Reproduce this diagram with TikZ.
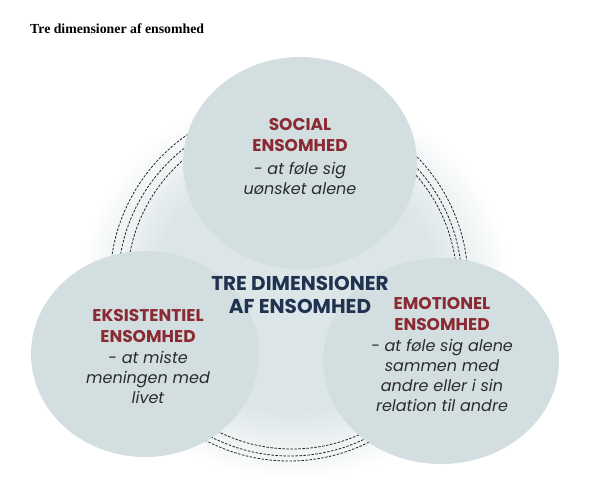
\documentclass[tikz,border=0pt]{standalone}
\usepackage{fontspec}
\setmainfont{Poppins}
\newfontfamily\headfont{Liberation Serif}
\usepackage{tikz}
\usetikzlibrary{positioning}
\definecolor{ensred}{HTML}{8A2A32}
\definecolor{ensnavy}{HTML}{1F3250}
\definecolor{ensfill}{HTML}{D3DEE0}
\definecolor{ensglow}{HTML}{DCE5E7}
\definecolor{enstext}{HTML}{2C2C2C}
\pgfdeclareradialshading{ensfade}{\pgfpoint{0bp}{0bp}}{color(0bp)=(ensglow); color(16bp)=(ensglow); color(25bp)=(white); color(50bp)=(white)}

\begin{document}
\begin{tikzpicture}[x=1pt, y=-1pt,
	redtxt/.style={text=ensred, font=\fontsize{17}{21}\selectfont\bfseries, align=center, inner sep=0pt, anchor=base},
	desctxt/.style={text=enstext, font=\fontsize{16}{20}\selectfont\itshape, align=center, inner sep=0pt, anchor=base},
	dashring/.style={draw=black!85, line width=0.8pt, dash pattern=on 2.5pt off 1.5pt}]
	% page frame
	\useasboundingbox (0,0) rectangle (600,498);
	% heading
	\node[anchor=base west, inner sep=0pt, font=\headfont\bfseries\fontsize{13.8}{16}\selectfont] (heading) at (30,33) {Tre dimensioner af ensomhed};
	% soft background disc
	\path[shading=ensfade] (295,285) ellipse (215pt and 195pt);
	% dashed rings
	\draw[dashring] (289,282) circle (179pt);
	\draw[dashring] (290,284) circle (172pt);
	\draw[dashring] (292,284) circle (165pt);
	% three circles
	\fill[ensfill] (300,163) ellipse (117pt and 106pt);
	\fill[ensfill] (145,354) ellipse (114pt and 103pt);
	\fill[ensfill] (441,361) ellipse (118pt and 103pt);
	% centre text (base = last line)
	\node[text=ensnavy, font=\fontsize{20}{23}\selectfont\bfseries, align=center, inner sep=0pt, anchor=base] (centre) at (300,313) {TRE DIMENSIONER\\AF ENSOMHED};
	% social
	\node[redtxt] (socialT) at (300,151) {SOCIAL\\ENSOMHED};
	\node[desctxt] (socialD) at (300,194) {- at føle sig\\uønsket alene};
	% eksistentiel
	\node[redtxt] (eksisT) at (148,342) {EKSISTENTIEL\\ENSOMHED};
	\node[desctxt] (eksisD) at (148,403) {- at miste\\meningen med\\livet};
	% emotionel
	\node[redtxt] (emoT) at (442,330) {EMOTIONEL\\ENSOMHED};
	\node[desctxt] (emoD) at (442,411) {- at føle sig alene\\sammen med\\andre eller i sin\\relation til andre};
\end{tikzpicture}
\end{document}
